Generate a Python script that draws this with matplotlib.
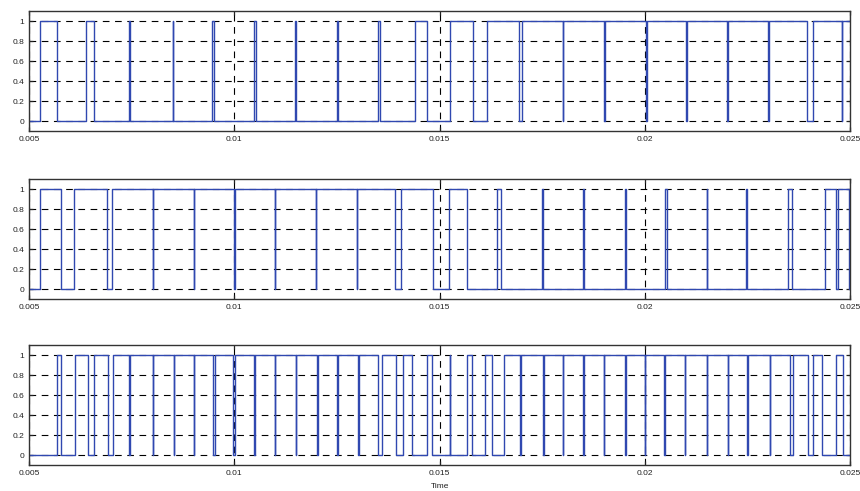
import matplotlib
matplotlib.use("Agg")
import matplotlib.pyplot as plt

# switching instants (s) of the three gate signals, each one starts at 0
edges_1 = [0.00526, 0.00568, 0.00638, 0.00658,
           0.00744, 0.00747, 0.00851, 0.00852, 0.00947, 0.00950, 0.01049, 0.01052,
           0.01149, 0.01150, 0.01251, 0.01252, 0.01350, 0.01356,
           0.01440, 0.01470, 0.01525, 0.01582, 0.01615,
           0.01694, 0.01700, 0.01800, 0.01801, 0.01901, 0.01902, 0.02002, 0.02005,
           0.02101, 0.02104, 0.02201, 0.02202, 0.02300, 0.02303, 0.02395, 0.02410,
           0.02480, 0.02481]

edges_2 = [0.00526, 0.00579, 0.00609,
           0.00690, 0.00701, 0.00801, 0.00802, 0.00901, 0.00902, 0.00999, 0.01002,
           0.01099, 0.01100, 0.01199, 0.01200, 0.01299, 0.01300, 0.01391, 0.01405,
           0.01485, 0.01524, 0.01566, 0.01639, 0.01651,
           0.01750, 0.01753, 0.01850, 0.01851, 0.01951, 0.01954, 0.02050, 0.02053,
           0.02151, 0.02152, 0.02247, 0.02250, 0.02350, 0.02358,
           0.02439, 0.02467, 0.02470, 0.02497]

edges_3 = [0.00568, 0.00579, 0.00611, 0.00644, 0.00658, 0.00693, 0.00705,
           0.00744, 0.00747, 0.00802, 0.00803, 0.00853, 0.00854, 0.00901, 0.00902,
           0.00949, 0.00952, 0.00998, 0.01001, 0.01047, 0.01050, 0.01099, 0.01100,
           0.01150, 0.01151, 0.01202, 0.01203, 0.01251, 0.01252, 0.01302, 0.01303,
           0.01351, 0.01359, 0.01395, 0.01410,
           0.01434, 0.01470, 0.01481, 0.01525, 0.01526,
           0.01566, 0.01578, 0.01611, 0.01627, 0.01657,
           0.01695, 0.01698, 0.01752, 0.01755, 0.01801, 0.01802, 0.01850, 0.01851,
           0.01900, 0.01901, 0.01951, 0.01954, 0.02000, 0.02001, 0.02046, 0.02049,
           0.02098, 0.02099, 0.02151, 0.02152, 0.02203, 0.02204, 0.02249, 0.02252,
           0.02305, 0.02306, 0.02354, 0.02360, 0.02398, 0.02411,
           0.02433, 0.02467, 0.02484]

x_ticks = [0.005, 0.01, 0.015, 0.02, 0.025]
x_labels = ["0.005", "0.01", "0.015", "0.02", "0.025"]
y_ticks = [0, 0.2, 0.4, 0.6, 0.8, 1]
y_labels = ["0", "0.2", "0.4", "0.6", "0.8", "1"]

T_START, T_STOP = 0.005, 0.025
BLUE = "#3048b0"


def square_wave(edges, level=0):
    xs = [T_START]
    ys = [level]
    for t in edges:
        xs += [t, t]
        ys += [level, 1 - level]
        level = 1 - level
    xs.append(T_STOP)
    ys.append(level)
    return xs, ys


def style_axes(ax):
    ax.set_xlim(T_START, T_STOP)
    ax.set_ylim(-0.1, 1.1)
    ax.set_xticks(x_ticks)
    ax.set_xticklabels(x_labels)
    ax.set_yticks(y_ticks)
    ax.set_yticklabels(y_labels)
    ax.tick_params(direction="in", length=3, width=0.9, top=True, right=True,
                   labelsize=6, pad=3.5, colors="#222222")
    ax.grid(True, color="black", linestyle=(0, (6, 5)), linewidth=0.8)
    ax.set_axisbelow(True)
    for s in ax.spines.values():
        s.set_color("#333333")
        s.set_linewidth(1.0)


def main():
    plt.rcParams["font.family"] = ["Liberation Sans", "DejaVu Sans"]
    fig = plt.figure(figsize=(8.6, 4.91), dpi=100)

    left, width, height = 29 / 860, 821 / 860, 120 / 491
    bottoms = [1 - 131 / 491, 1 - 299 / 491, 1 - 465 / 491]

    for edges, b in zip([edges_1, edges_2, edges_3], bottoms):
        ax = fig.add_axes([left, b, width, height])
        xs, ys = square_wave(edges)
        ax.plot(xs, ys, color=BLUE, linewidth=1.0)
        style_axes(ax)

    fig.text(440 / 860, 1 - 487 / 491, "Time", ha="center", va="center",
             fontsize=6, color="#222222")

    fig.savefig("out.png", dpi=100)


if __name__ == "__main__":
    main()
